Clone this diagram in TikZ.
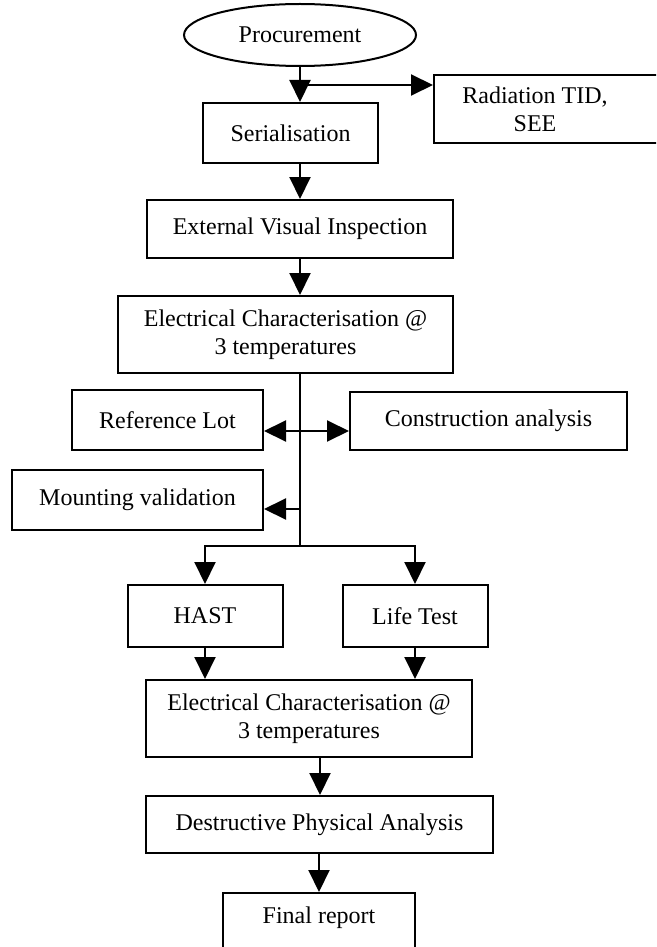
\documentclass[tikz,border=0pt]{standalone}
\usepackage{fontspec}
\setmainfont{Liberation Serif}
\usetikzlibrary{arrows.meta,shapes.geometric}
\begin{document}
\begin{tikzpicture}[x=1pt,y=-1pt,
  txt/.style={font=\fontsize{24}{28}\selectfont,align=center,inner sep=0pt},
  box/.style={txt,draw,line width=2pt,rectangle},
  arr/.style={line width=2pt,-{Triangle[length=22pt,width=21pt]}},
  ln/.style={line width=2pt}]
\useasboundingbox (0,0) rectangle (656,947);
\fill[white] (0,0) rectangle (656,947);
\clip (0,0) rectangle (656,947);
% nodes
\node[txt,ellipse,draw,line width=2pt,minimum width=232pt,minimum height=62pt] (proc) at (300,35) {Procurement};
\node[box,minimum width=175pt,minimum height=60pt] (ser) at (290.5,133) {Serialisation};
\node[box,minimum width=240pt,minimum height=68pt,anchor=west] (rad) at (433,109) {};
\node[txt] (radt) at (535,109) {Radiation TID,\\SEE};
\node[box,minimum width=306pt,minimum height=58pt] (evi) at (300,229) {External Visual Inspection};
\node[box,minimum width=335pt,minimum height=77pt] (ec1) at (285.5,334.5) {Electrical Characterisation @\\3 temperatures};
\node[box,minimum width=191pt,minimum height=60pt] (ref) at (167.5,420) {Reference Lot};
\node[box,minimum width=277pt,minimum height=58pt] (con) at (488.5,421) {Construction analysis};
\node[box,minimum width=251pt,minimum height=60pt] (mnt) at (137.5,500) {Mounting validation};
\node[box,minimum width=155pt,minimum height=62pt] (hast) at (205,616) {HAST};
\node[box,minimum width=145pt,minimum height=62pt] (life) at (415,616) {Life Test};
\node[box,minimum width=326pt,minimum height=77pt] (ec2) at (309,718.5) {Electrical Characterisation @\\3 temperatures};
\node[box,minimum width=347pt,minimum height=57pt] (dpa) at (319.5,824.5) {Destructive Physical Analysis};
\node[box,minimum width=192pt,minimum height=80pt,anchor=north] (fin) at (319,892) {};
\node[txt] (fint) at (319,918) {Final report};
% junctions
\coordinate (j1) at (300,85);
\coordinate (j2) at (300,431);
\coordinate (j3) at (300,509);
\coordinate (j4) at (300,546);
% connectors
\draw[arr] (proc.south) -- (proc.south |- ser.north);
\draw[arr] (j1) -- (j1 -| rad.west);
\draw[arr] (ser.south -| proc.south) -- (evi.north -| proc.south);
\draw[arr] (evi.south -| proc.south) -- (ec1.north -| proc.south);
\draw[ln] (ec1.south -| j2) -- (j4);
\draw[arr] (j2) -- (j2 -| ref.east);
\draw[arr] (j2) -- (j2 -| con.west);
\draw[arr] (j3) -- (j3 -| mnt.east);
\draw[arr] (j4) -| (hast.north);
\draw[arr] (j4) -| (life.north);
\draw[arr] (hast.south) -- (hast.south |- ec2.north);
\draw[arr] (life.south) -- (life.south |- ec2.north);
\draw[arr] (320,0 |- ec2.south) -- (320,0 |- dpa.north);
\draw[arr] (fin.north |- dpa.south) -- (fin.north);
\end{tikzpicture}
\end{document}
